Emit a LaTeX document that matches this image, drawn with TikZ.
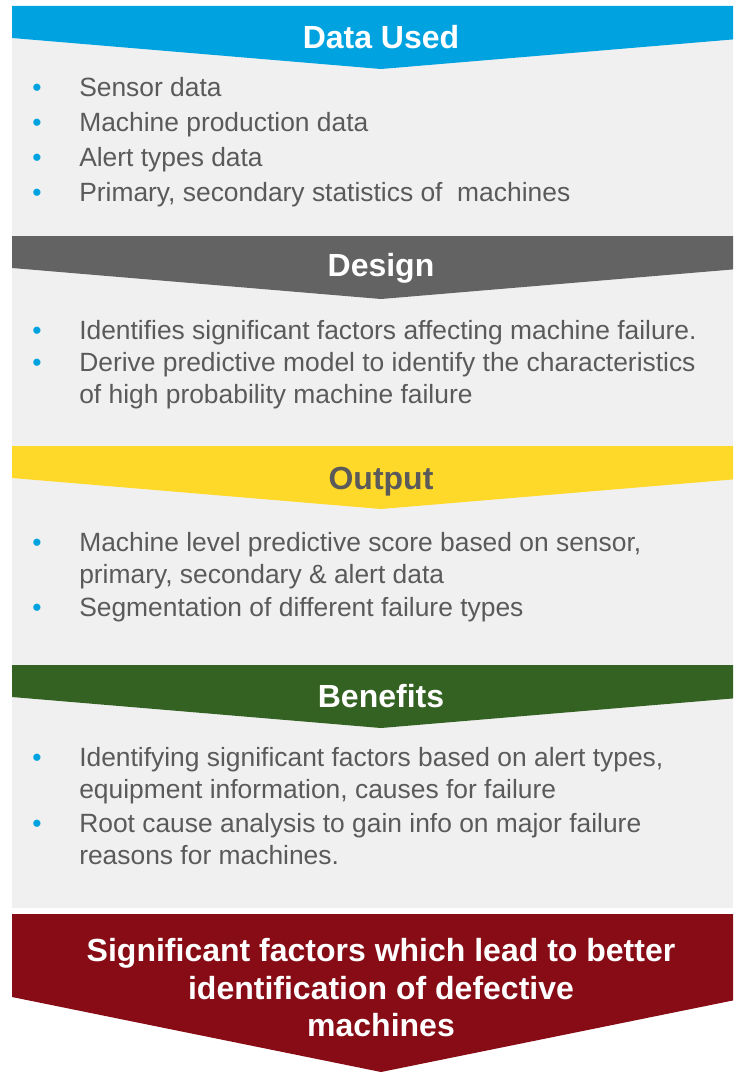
\documentclass[tikz,border=0pt]{standalone}
\usepackage{fontspec}
\setmainfont{Liberation Sans}

\definecolor{bandblue}{RGB}{0,163,224}
\definecolor{bandgray}{RGB}{99,99,99}
\definecolor{bandyellow}{RGB}{255,217,41}
\definecolor{bandgreen}{RGB}{52,98,34}
\definecolor{bandred}{RGB}{135,12,22}
\definecolor{panelgray}{RGB}{240,240,240}
\definecolor{bodytext}{RGB}{90,90,90}

% blue bullet hanging left of an item
\newcommand\bul{\llap{\textcolor{bandblue}{\textbullet}\hspace{28.3pt}}}

\begin{document}
\begin{tikzpicture}[
        x=0.75pt, y=-0.75pt,
        title/.style={anchor=base, inner sep=0pt, text=white, font=\bfseries\fontsize{24}{28.1}\selectfont},
        item/.style={anchor=base west, align=left, inner sep=0pt, text=bodytext, font=\fontsize{19.8}{24}\selectfont}
    ]
    \useasboundingbox (0,0) rectangle (733,1074);
    \clip (0,0) rectangle (733,1074);

    % Grey panel behind the four sections
    \fill[panelgray] (12,6) rectangle (733,908);

    % Section banners: bar with a flat point, apex at x=381
    \foreach \yy/\clr in {6/bandblue, 236/bandgray, 446/bandyellow, 665/bandgreen}
        \fill[\clr] (12,\yy) -- (750,\yy) -- (750,\yy+32) -- (381,\yy+63) -- (12,\yy+32) -- cycle;

    % Closing arrow
    \fill[bandred] (12,914) -- (750,914) -- (750,997) -- (381,1072) -- (12,997) -- cycle;

    % Headings (multi-line nodes sit on their last baseline)
    \node[title] (dataT) at (381,48.3) {Data Used};
    \node[title] (designT) at (381,276.7) {Design};
    \node[title, text=bodytext] (outputT) at (381,489.3) {Output};
    \node[title] (benefitT) at (381,707.3) {Benefits};
    \node[title, align=center] (result) at (381,1036.7)
        {Significant factors which lead to better\\ identification of defective\\ machines};

    % Data used
    \node[item] (data1) at (79,96.7) {\bul Sensor data};
    \node[item] (data2) at (79,131.7) {\bul Machine production data};
    \node[item] (data3) at (79,166.7) {\bul Alert types data};
    \node[item] (data4) at (79,201.7) {\bul Primary, secondary statistics of \ machines};

    % Design
    \node[item] (design1) at (79,339.5) {\bul Identifies significant factors affecting machine failure.};
    \node[item] (design2) at (79,403.5) {\bul Derive predictive model to identify the characteristics\\ of high probability machine failure};

    % Output
    \node[item] (output1) at (79,583.3) {\bul Machine level predictive score based on sensor,\\ primary, secondary \& alert data};
    \node[item] (output2) at (79,616.7) {\bul Segmentation of different failure types};

    % Benefits
    \node[item] (benefit1) at (79,798.5) {\bul Identifying significant factors based on alert types,\\ equipment information, causes for failure};
    \node[item] (benefit2) at (79,864.5) {\bul Root cause analysis to gain info on major failure\\ reasons for machines.};

\end{tikzpicture}
\end{document}
